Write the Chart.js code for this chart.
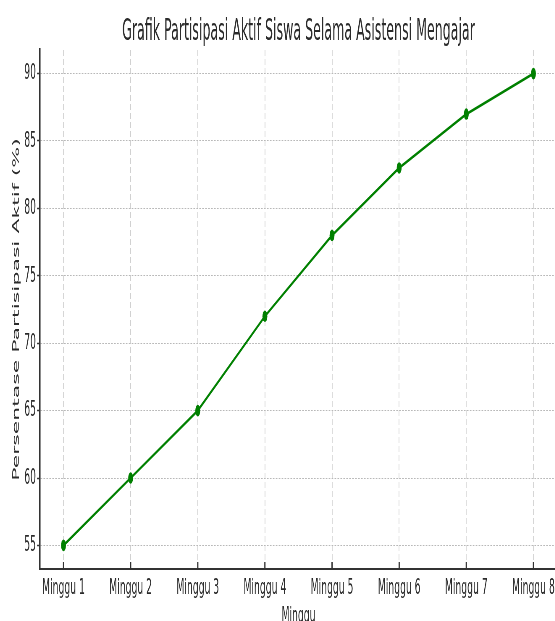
<!DOCTYPE html>
<html>
<head>
<meta charset="utf-8">
<script src="https://cdn.jsdelivr.net/npm/chart.js@4"></script>
<style>
  html, body { margin: 0; padding: 0; background: #fff; overflow: hidden; width: 555px; height: 621px; }
  /* the reference is squeezed horizontally, so draw wide and squeeze it the same way */
  #wrap { transform: scaleX(0.42); transform-origin: 0 0; }
</style>
</head>
<body>
<div id="wrap"><canvas id="chart" width="1386" height="640"></canvas></div>
<script>
// Data
const weeks = ['Minggu 1', 'Minggu 2', 'Minggu 3', 'Minggu 4', 'Minggu 5', 'Minggu 6', 'Minggu 7', 'Minggu 8'];
const participation = [55, 60, 65, 72, 78, 83, 87, 90];
const yTicks = [55, 60, 65, 70, 75, 80, 85, 90];

const textColor = '#2b2b2b';
const font = { family: 'DejaVu Sans', size: 22 };

// x tick marks point into the plot in the reference
const innerTicks = {
    id: 'innerTicks',
    afterDatasetsDraw(chart) {
        const { ctx, chartArea, scales: { x } } = chart;
        ctx.save();
        ctx.strokeStyle = '#333';
        ctx.lineWidth = 3;
        x.ticks.forEach(t => {
            const px = x.getPixelForValue(t.value);
            ctx.beginPath();
            ctx.moveTo(px, chartArea.bottom);
            ctx.lineTo(px, chartArea.bottom - 7);
            ctx.stroke();
        });
        ctx.restore();
    }
};

const ctx = document.getElementById('chart').getContext('2d');
new Chart(ctx, {
    type: 'line',
    data: {
        datasets: [{
            label: 'Partisipasi',
            data: participation.map((v, i) => ({ x: i, y: v })),
            borderColor: '#008000',
            backgroundColor: '#008000',
            borderWidth: 2.9,
            pointRadius: 5.8,
            pointBorderWidth: 0,
            pointBackgroundColor: '#008000',
            tension: 0,
        }]
    },
    options: {
        responsive: false,
        animation: false,
        layout: { padding: { left: 0, right: 60, top: 0, bottom: 0 } },
        plugins: {
            legend: { display: false },
            tooltip: { enabled: false },
            title: {
                display: true,
                text: 'Grafik Partisipasi Aktif Siswa Selama Asistensi Mengajar',
                fullSize: false,
                color: textColor,
                font: { family: 'DejaVu Sans', size: 30, weight: 'normal' },
                padding: { top: 14, bottom: 0 }
            }
        },
        scales: {
            x: {
                type: 'linear',
                min: -0.35,
                max: 7.35,
                afterBuildTicks: axis => { axis.ticks = weeks.map((w, i) => ({ value: i })); },
                afterFit: scale => { scale.height = 640 - 569; },
                ticks: {
                    callback: v => weeks[v],
                    color: textColor,
                    font: font,
                    padding: 6,
                    maxRotation: 0,
                    autoSkip: false
                },
                grid: {
                    color: '#cfcfcf',
                    lineWidth: 1.8,
                    drawTicks: false
                },
                border: { display: true, color: '#333', width: 2, dash: [6, 3] },
                title: {
                    display: true,
                    text: 'Minggu',
                    color: textColor,
                    font: font,
                    padding: { top: 0, bottom: 11 }
                }
            },
            y: {
                min: 53.25,
                max: 91.75,
                afterBuildTicks: axis => { axis.ticks = yTicks.map(v => ({ value: v })); },
                afterFit: scale => { scale.width = 40 / 0.42; },
                ticks: {
                    color: textColor,
                    font: font,
                    padding: 2.5
                },
                grid: {
                    color: '#b8b8b8',
                    lineWidth: 1,
                    tickColor: '#333',
                    tickLength: 7,
                    tickWidth: 1.5
                },
                border: { display: true, color: '#333', width: 3.5, dash: [4, 3] },
                title: {
                    display: true,
                    text: 'Persentase Partisipasi Aktif (%)',
                    color: textColor,
                    font: font,
                    padding: { top: 26, bottom: 0 }
                }
            }
        }
    },
    plugins: [innerTicks]
});
</script>
</body>
</html>
